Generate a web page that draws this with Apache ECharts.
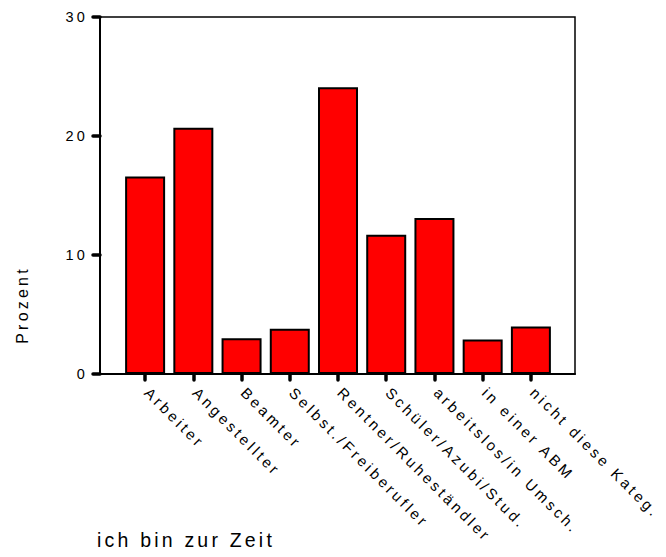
<!DOCTYPE html>
<html><head><meta charset="UTF-8">
<title>ich bin zur Zeit</title>
<style>*{margin:0;padding:0}#chart{width:666px;height:557px;letter-spacing:3.2px}</style>
</head>
<body>
<div id="chart"></div>
<script src="https://cdn.jsdelivr.net/npm/echarts@6/dist/echarts.min.js"></script>
<script>
// Werte in Prozent
const categories = ['Arbeiter', 'Angestellter', 'Beamter', 'Selbst./Freiberufler', 'Rentner/Ruheständler',
    'Schüler/Azubi/Stud.', 'arbeitslos/in Umsch.', 'in einer ABM', 'nicht diese Kateg.'];
const prozent = [16.6, 20.7, 3.0, 3.8, 24.1, 11.7, 13.1, 2.9, 4.0];
const yTicks = [0, 10, 20, 30];

const chart = echarts.init(document.getElementById('chart'), null, { renderer: 'svg' });
const font = 'Liberation Sans, Arial, sans-serif';

chart.setOption({
    animation: false,
    backgroundColor: '#fff',
    grid: [
        // Rahmen mit y-Achse
        { left: 100, right: 91, top: 17, bottom: 183, show: true, borderColor: '#000', borderWidth: 1.5 },
        // Balkenbereich
        { left: 121, right: 111, top: 17, bottom: 183 }
    ],
    xAxis: [
        { gridIndex: 0, type: 'value', min: 0, max: 1, show: true,
          axisLine: { show: true, lineStyle: { color: '#000', width: 2 } },
          axisTick: { show: false }, axisLabel: { show: false }, splitLine: { show: false } },
        { gridIndex: 1, type: 'category', data: categories,
          axisLine: { show: false },
          axisTick: { show: true, alignWithLabel: true, length: 6, lineStyle: { color: '#000', width: 3.5, cap: 'round' } },
          axisLabel: { rotate: -45, margin: 14, padding: [0, 0, 0, 3], fontSize: 15, fontFamily: font, color: '#000' } }
    ],
    yAxis: [
        { gridIndex: 0, type: 'value', min: yTicks[0], max: yTicks[yTicks.length - 1], interval: 10,
          axisLine: { show: true, lineStyle: { color: '#000', width: 2 } },
          axisTick: { show: true, length: 7, lineStyle: { color: '#000', width: 3.5, cap: 'round' } },
          axisLabel: { fontSize: 14.5, fontFamily: font, color: '#000', margin: 12 },
          splitLine: { show: false } },
        { gridIndex: 1, type: 'value', min: yTicks[0], max: yTicks[yTicks.length - 1], show: false }
    ],
    series: [{
        type: 'bar',
        xAxisIndex: 1,
        yAxisIndex: 1,
        data: prozent,
        barWidth: 40,
        itemStyle: { color: '#ff0000', borderColor: '#000', borderWidth: 2 }
    }],
    graphic: [
        { type: 'text', left: 97, top: 530,
          style: { text: 'ich bin zur Zeit', fontSize: 19.5, fontFamily: font, fill: '#000' } },
        { type: 'text', x: 22, y: 305, rotation: Math.PI / 2,
          style: { text: 'Prozent', fontSize: 16, fontFamily: font, fill: '#000', align: 'center', verticalAlign: 'middle' } }
    ]
});
</script>
</body></html>
